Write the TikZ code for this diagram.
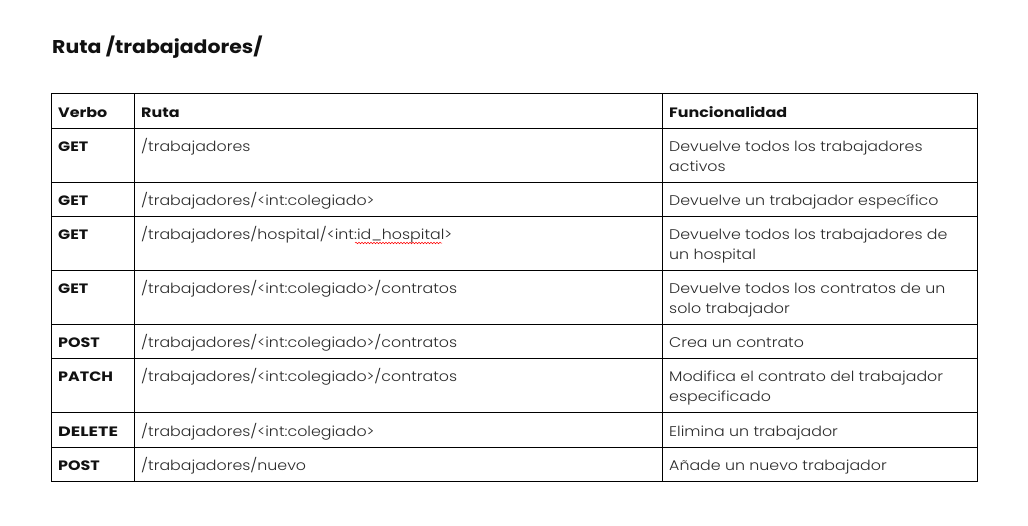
\documentclass[tikz,border=0pt]{standalone}
\usepackage{fontspec}
\usepackage{graphicx}
\setmainfont{Poppins}
\newfontfamily\lightfont[FakeStretch=1.13]{Poppins Light}
\newfontfamily\boldfont[FakeStretch=1.17]{Poppins Bold}
\newfontfamily\titlefont[FakeStretch=1.105]{Poppins Bold}
\usetikzlibrary{decorations.pathmorphing}
\definecolor{bodytext}{HTML}{2A2A2A}
\definecolor{headtext}{HTML}{111111}
\tikzset{
  grid/.style={draw=black, line width=0.9pt},
  verb/.style={anchor=base west, inner sep=0pt, font=\boldfont\fontsize{13.6}{16}\selectfont, text=headtext},
  cell/.style={anchor=base west, inner sep=0pt, font=\lightfont\fontsize{14}{16}\selectfont, text=bodytext},
  title/.style={anchor=base west, inner sep=0pt, font=\titlefont\fontsize{18.5}{22}\selectfont, text=headtext},
  squiggle/.style={draw=red, line width=0.5pt, decorate, decoration={snake, amplitude=0.8pt, segment length=3pt}}
}
\begin{document}
\begin{tikzpicture}[x=1pt,y=-1pt]
\useasboundingbox (0,0) rectangle (1028,525);
\fill[white] (0,0) rectangle (1028,525);
\node[title] (t) at (52,53) {Ruta /trabajadores/};
% grid
\draw[grid] (51.5,93.5) rectangle (977.5,481.5);
\foreach \y in {128,182,216,270,324,358,412,447.5}
  \draw[grid] (51.5,\y) -- (977.5,\y);
\draw[grid] (134.5,93.5) -- (134.5,481.5);
\draw[grid] (662.5,93.5) -- (662.5,481.5);
% header
\node[verb] (h1) at (58,117) {Verbo};
\node[verb] (h2) at (141,117) {Ruta};
\node[verb] (h3) at (669,117) {Funcionalidad};
% rows
\node[verb] (v1) at (58,151) {GET};
\node[cell] (r1) at (141,151) {/trabajadores};
\node[cell] (f1a) at (669,151) {Devuelve todos los trabajadores};
\node[cell] (f1b) at (669,171) {activos};

\node[verb] (v2) at (58,205) {GET};
\node[cell] (r2) at (141,205) {/trabajadores/<int:colegiado>};
\node[cell] (f2) at (669,205) {Devuelve un trabajador específico};

\node[verb] (v3) at (58,239) {GET};
\node[cell] (r3) at (141,239) {/trabajadores/hospital/<int:id\_hospital>};
\node[cell] (f3a) at (669,239) {Devuelve todos los trabajadores de};
\node[cell] (f3b) at (669,259) {un hospital};

\node[verb] (v4) at (58,293) {GET};
\node[cell] (r4) at (141,293) {/trabajadores/<int:colegiado>/contratos};
\node[cell] (f4a) at (669,293) {Devuelve todos los contratos de un};
\node[cell] (f4b) at (669,313) {solo trabajador};

\node[verb] (v5) at (58,347) {POST};
\node[cell] (r5) at (141,347) {/trabajadores/<int:colegiado>/contratos};
\node[cell] (f5) at (669,347) {Crea un contrato};

\node[verb] (v6) at (58,381) {PATCH};
\node[cell] (r6) at (141,381) {/trabajadores/<int:colegiado>/contratos};
\node[cell] (f6a) at (669,381) {Modifica el contrato del trabajador};
\node[cell] (f6b) at (669,401) {especificado};

\node[verb] (v7) at (58,436) {\scalebox{1.1}[1]{DELETE}};
\node[cell] (r7) at (141,436) {/trabajadores/<int:colegiado>};
\node[cell] (f7) at (669,436) {Elimina un trabajador};

\node[verb] (v8) at (58,470) {POST};
\node[cell] (r8) at (141,470) {/trabajadores/nuevo};
\node[cell] (f8) at (669,470) {Añade un nuevo trabajador};

% spell-check underline
\coordinate (sqa) at (355,243);
\coordinate (sqb) at (442,243);
\draw[squiggle] (sqa) -- (sqb);
\end{tikzpicture}
\end{document}
